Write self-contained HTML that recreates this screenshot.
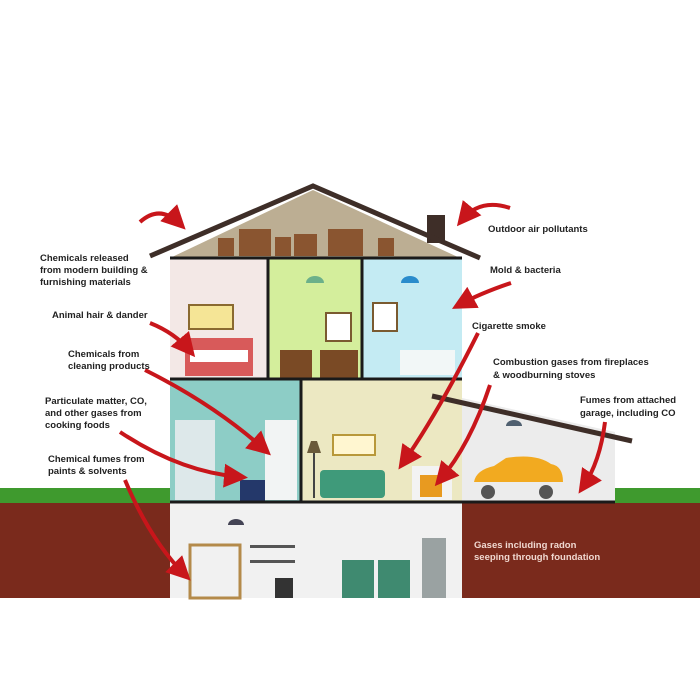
<!DOCTYPE html>
<html><head><style>body{margin:0;background:#fff}svg{display:block}text{font-family:"Liberation Sans",sans-serif;font-weight:bold;font-size:9.5px;fill:#222}</style></head><body>
<svg width="700" height="700" viewBox="0 0 700 700">
<defs><marker id="a" markerWidth="6" markerHeight="6" refX="4" refY="3" orient="auto"><path d="M0,0L6,3L0,6z" fill="#c8161b"/></marker></defs>
<!-- ground -->
<rect x="0" y="488" width="172" height="16" fill="#3f9a2e"/>
<rect x="612" y="488" width="88" height="16" fill="#3f9a2e"/>
<rect x="0" y="503" width="700" height="95" fill="#7a2a1c"/>
<!-- basement -->
<rect x="170" y="503" width="292" height="95" fill="#f1f1f1"/>
<!-- roof -->
<polygon points="170,258 313,190 460,258" fill="#bcae93"/>
<rect x="427" y="215" width="18" height="28" fill="#3e2e28"/>
<polyline points="150,256 313,186 480,258" fill="none" stroke="#3e2e28" stroke-width="5"/>
<!-- attic boxes -->
<g fill="#8a5530"><rect x="218" y="238" width="16" height="18"/><rect x="239" y="229" width="32" height="27"/><rect x="275" y="237" width="16" height="19"/><rect x="294" y="234" width="23" height="22"/><rect x="328" y="229" width="35" height="27"/><rect x="378" y="238" width="16" height="18"/></g>
<!-- upper rooms -->
<rect x="170" y="258" width="98" height="120" fill="#f3e8e6"/>
<rect x="268" y="258" width="94" height="120" fill="#d4ee9c"/>
<rect x="362" y="258" width="100" height="120" fill="#c4ebf3"/>
<rect x="189" y="305" width="44" height="24" fill="#f5e596" stroke="#8a6a30" stroke-width="2"/>
<rect x="185" y="338" width="68" height="38" fill="#d85a5a"/><rect x="190" y="350" width="58" height="12" fill="#fff"/>
<rect x="326" y="313" width="25" height="28" fill="#fff" stroke="#7a5a30" stroke-width="2"/>
<rect x="280" y="350" width="32" height="28" fill="#7a4a25"/><rect x="320" y="350" width="38" height="28" fill="#7a4a25"/>
<rect x="373" y="303" width="24" height="28" fill="#fff" stroke="#7a5a30" stroke-width="2"/>
<rect x="400" y="350" width="55" height="25" fill="#f2f7f7"/>
<path d="M306,283a9,7 0 0 1 18,0z" fill="#6cb08a"/><path d="M401,283a9,7 0 0 1 18,0z" fill="#2a8ccc"/>
<!-- middle floor -->
<rect x="170" y="380" width="130" height="122" fill="#8dcdc6"/>
<rect x="300" y="380" width="162" height="122" fill="#ece8c2"/>
<rect x="175" y="420" width="40" height="80" fill="#dde8ea"/><rect x="265" y="420" width="32" height="80" fill="#f2f4f4"/>
<rect x="240" y="480" width="25" height="22" fill="#24386a"/>
<rect x="333" y="435" width="42" height="20" fill="#fff6d0" stroke="#b8983a" stroke-width="2"/>
<rect x="320" y="470" width="65" height="28" fill="#3f9a7a" rx="4"/>
<rect x="412" y="466" width="40" height="34" fill="#f3f3f3"/><rect x="420" y="475" width="22" height="22" fill="#e89a20"/>
<path d="M307,453h14l-4,-12h-6z" fill="#6a5a3a"/><rect x="313" y="453" width="2" height="45" fill="#444"/>
<!-- garage -->
<polygon points="462,398 615,432 615,502 462,502" fill="#ececec"/>
<line x1="432" y1="396" x2="632" y2="441" stroke="#3e2e28" stroke-width="5"/>
<path d="M474,482q2,-12 20,-16l12,-8q30,-5 45,6q12,2 12,18z" fill="#f2aa20"/>
<circle cx="488" cy="492" r="7" fill="#555"/><circle cx="546" cy="492" r="7" fill="#555"/>
<path d="M506,426a8,6 0 0 1 16,0z" fill="#506070"/>
<!-- frame lines -->
<g stroke="#1a1a1a" stroke-width="3"><line x1="170" y1="258" x2="462" y2="258"/><line x1="170" y1="379" x2="462" y2="379"/><line x1="170" y1="502" x2="615" y2="502"/><line x1="268" y1="258" x2="268" y2="379"/><line x1="362" y1="258" x2="362" y2="379"/><line x1="301" y1="379" x2="301" y2="502"/></g>
<!-- basement items -->
<rect x="190" y="545" width="50" height="53" fill="none" stroke="#b48a4a" stroke-width="3"/>
<rect x="250" y="545" width="45" height="3" fill="#555"/><rect x="250" y="560" width="45" height="3" fill="#555"/>
<rect x="275" y="578" width="18" height="20" fill="#333"/>
<rect x="342" y="560" width="32" height="38" fill="#3f8a70"/><rect x="378" y="560" width="32" height="38" fill="#3f8a70"/>
<rect x="422" y="538" width="24" height="60" fill="#9aa2a2"/>
<path d="M228,525a8,6 0 0 1 16,0z" fill="#445"/>
<!-- arrows -->
<g fill="none" stroke="#c8161b" stroke-width="4" marker-end="url(#a)">
<path d="M140,222q20,-18 40,2"/>
<path d="M510,208q-30,-10 -48,12"/>
<path d="M511,283q-30,10 -52,22"/>
<path d="M150,323q25,10 40,28"/>
<path d="M145,370q70,35 120,80"/>
<path d="M120,432q60,40 120,45"/>
<path d="M125,480q25,60 60,95"/>
<path d="M478,333q-40,80 -75,130"/>
<path d="M490,385q-20,60 -50,95"/>
<path d="M605,422q-5,40 -22,65"/>
</g>
<!-- labels -->
<text x="40" y="261">Chemicals released</text><text x="40" y="273">from modern building &amp;</text><text x="40" y="285">furnishing materials</text>
<text x="52" y="318">Animal hair &amp; dander</text>
<text x="68" y="357">Chemicals from</text><text x="68" y="369">cleaning products</text>
<text x="45" y="404">Particulate matter, CO,</text><text x="45" y="416">and other gases from</text><text x="45" y="428">cooking foods</text>
<text x="48" y="462">Chemical fumes from</text><text x="48" y="474">paints &amp; solvents</text>
<text x="488" y="232">Outdoor air pollutants</text>
<text x="490" y="273">Mold &amp; bacteria</text>
<text x="472" y="329">Cigarette smoke</text>
<text x="493" y="365">Combustion gases from fireplaces</text><text x="493" y="378">&amp; woodburning stoves</text>
<text x="580" y="403">Fumes from attached</text><text x="580" y="416">garage, including CO</text>
<text x="474" y="548" style="fill:#f0d8d0">Gases including radon</text><text x="474" y="560" style="fill:#f0d8d0">seeping through foundation</text>
</svg>
</body></html>
